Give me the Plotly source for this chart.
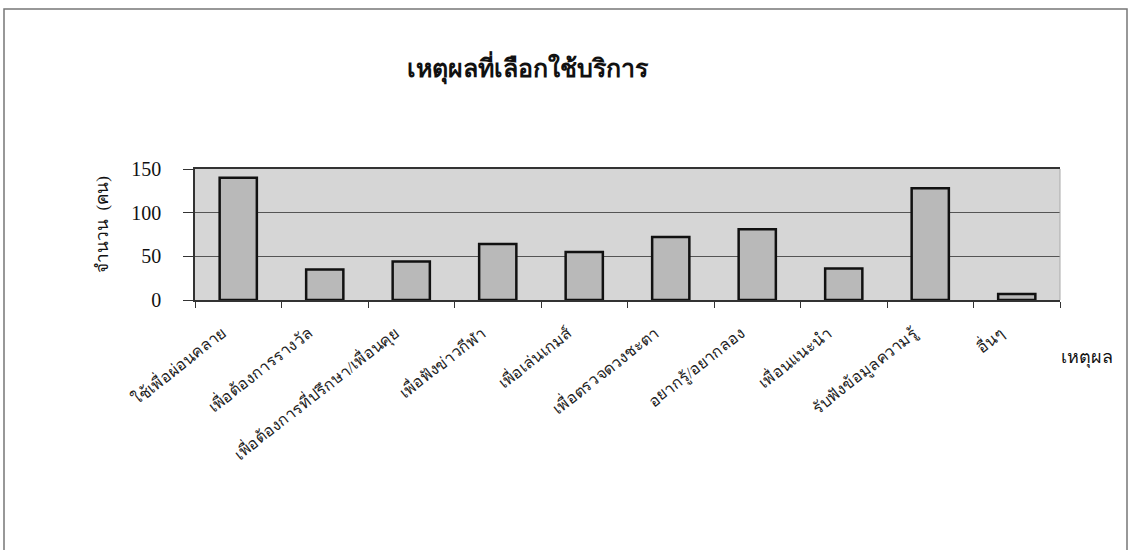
import plotly.graph_objects as go

W, H = 1130, 550

title_text = "เหตุผลที่เลือกใช้บริการ"
y_title = "จำนวน  (คน)"
x_title = "เหตุผล"

categories = [
    "ใช้เพื่อผ่อนคลาย",
    "เพื่อต้องการรางวัล",
    "เพื่อต้องการที่ปรึกษา/เพื่อนคุย",
    "เพื่อฟังข่าวกีฬา",
    "เพื่อเล่นเกมส์",
    "เพื่อตรวจดวงชะตา",
    "อยากรู้/อยากลอง",
    "เพื่อนแนะนำ",
    "รับฟังข้อมูลความรู้",
    "อื่นๆ",
]
values = [140, 35, 44, 64, 55, 72, 81, 36, 128, 7]
y_ticks = [0, 50, 100, 150]

# plot area in pixels
L, R, T, B = 195, 1060, 169, 300

FONT = "Liberation Serif, Times New Roman, serif"

fig = go.Figure()
fig.add_trace(go.Bar(
    x=categories, y=values,
    width=0.43,
    marker=dict(color="#b9b9b9", line=dict(color="#111111", width=2.5)),
))

def px_x(x):
    return (x - L) / (R - L)

def px_y(y):
    return (B - y) / (B - T)

fig.update_layout(
    width=W, height=H,
    margin=dict(l=L, r=W - R, t=T, b=H - B),
    paper_bgcolor="white",
    plot_bgcolor="#d6d6d6",
    showlegend=False,
    font=dict(family=FONT, color="#111111"),
    xaxis=dict(
        type="category",
        tickangle=-38,
        tickfont=dict(size=16, family=FONT, color="#222222"),
        ticks="outside", tickson="boundaries", ticklen=6, tickcolor="#333333",
        ticklabelstandoff=16, ticklabelshift=-16,
        showline=True, linecolor="#333333", linewidth=1.5, mirror=True,
        showgrid=False,
    ),
    yaxis=dict(
        range=[0, 150],
        tickvals=y_ticks,
        tickfont=dict(size=20, family=FONT, color="#111111"),
        ticks="outside", ticklen=10, tickcolor="#333333",
        ticklabelstandoff=18,
        showline=True, linecolor="#333333", linewidth=1.5,
        showgrid=True, gridcolor="#555555", gridwidth=1,
        zeroline=False,
    ),
    annotations=[
        dict(text="<b>" + title_text + "</b>", xref="paper", yref="paper",
             x=px_x(528), y=px_y(68), xanchor="center", yanchor="middle",
             showarrow=False,
             font=dict(size=25, family=FONT, color="#111111")),
        dict(text=y_title, xref="paper", yref="paper",
             x=px_x(102), y=px_y(225), xanchor="center", yanchor="middle",
             showarrow=False, textangle=-90,
             font=dict(size=17, family=FONT, color="#111111")),
        dict(text=x_title, xref="paper", yref="paper",
             x=px_x(1087), y=px_y(357), xanchor="center", yanchor="middle",
             showarrow=False,
             font=dict(size=18, family=FONT, color="#111111")),
    ],
    shapes=[
        dict(type="rect", xref="paper", yref="paper",
             x0=px_x(4), x1=px_x(1127), y0=px_y(9), y1=px_y(560),
             line=dict(color="#777777", width=1.5), layer="below"),
        dict(type="line", xref="paper", yref="paper",
             x0=1, x1=1, y0=0, y1=1,
             line=dict(color="#aaaaaa", width=1)),
    ],
)

fig.write_html("out.html")
